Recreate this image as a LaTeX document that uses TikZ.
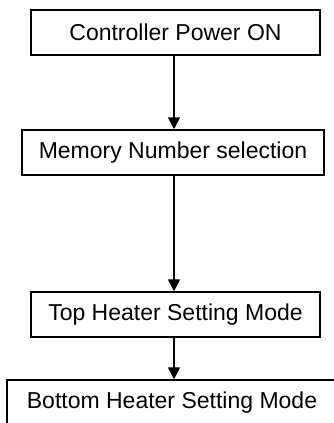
\documentclass[tikz,border=0pt]{standalone}
\usepackage{fontspec}
\setmainfont{Liberation Sans}
\usetikzlibrary{arrows.meta}

\begin{document}
\begin{tikzpicture}[x=1pt, y=-1pt, line width=1.5pt]
      \tikzstyle{every path}=[-{Triangle[length=12pt, width=12pt]}]
      \tikzstyle{stage}=[draw, rectangle, minimum height=45pt, inner sep=0pt, font=\fontsize{23}{27}\selectfont]
      \useasboundingbox (0,0) rectangle (334,423);

      \coordinate (axis) at (174,0);
      \node[stage, minimum width=289pt] (power) at (175.5, 32.5) {Controller Power ON};
      \node[stage, minimum width=302pt] (memory) at (173, 152.5) {Memory Number selection};
      \node[stage, minimum width=289pt] (top) at (175.5, 314.5) {Top Heater Setting Mode};
      \node[stage, minimum width=330pt] (bottom) at (172, 402.5) {Bottom Heater Setting Mode};

      \draw (power.south -| axis) -- (memory.north -| axis);
      \draw (memory.south -| axis) -- (top.north -| axis);
      \draw (top.south -| axis) -- (bottom.north -| axis);
\end{tikzpicture}
\end{document}
